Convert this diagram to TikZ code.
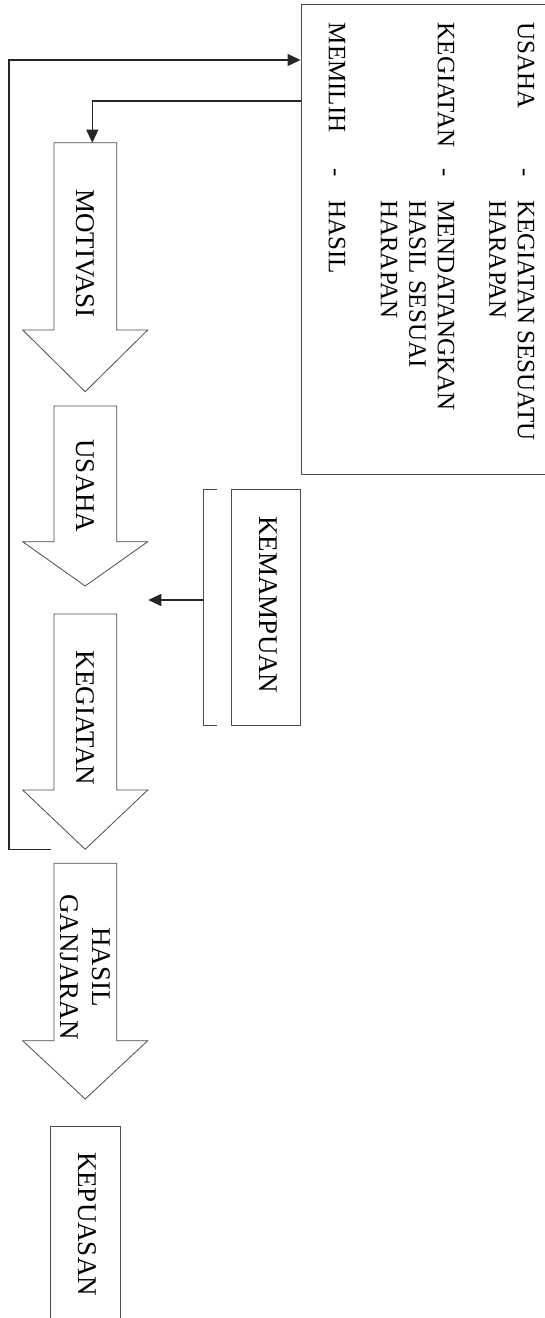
\documentclass[tikz,border=0pt]{standalone}
\usepackage{fontspec}
\setmainfont{Liberation Serif}
\usetikzlibrary{arrows.meta}
\newcommand\blkarrow[4]{%
  \draw[blk] (54,#1) -- (116.7,#1) -- (116.7,#2) -- (147.7,#2) -- (85.2,#3) -- (22.7,#2) -- (54,#2) -- cycle;
  \coordinate (#4) at (85.2,#1);}
\tikzset{
  blk/.style={draw=black!70, line width=0.8pt, fill=white, line join=miter},
  conn/.style={draw=black!85, line width=1.1pt},
  arr/.style={conn, -{Triangle[length=13pt,width=12pt]}},
  frame/.style={draw=black!70, line width=0.9pt, inner sep=0pt},
  boxtxt/.style={font=\fontsize{25}{28.5}\selectfont, rotate=-90, inner sep=0pt, text height=16.4pt, text depth=0pt},
  lbl/.style={font=\fontsize{27}{31}\selectfont, rotate=-90, inner sep=0pt, text height=17.7pt, text depth=0pt}
}
\begin{document}
\begin{tikzpicture}[x=1pt,y=-1pt]
\path[use as bounding box, fill=white] (0,0) rectangle (544,1318);
% big definition box (clipped at right edge)
\node[frame, minimum width=299pt, minimum height=470.5pt] (defbox) at (450.5,239.25) {};
\node[boxtxt, anchor=west] (t1) at (526,22.7) {USAHA};
\node[boxtxt] (h1) at (526,173) {-};
\node[boxtxt, anchor=west] (d1a) at (526,200) {KEGIATAN SESUATU};
\node[boxtxt, anchor=west] (d1b) at (497.5,200) {HARAPAN};
\node[boxtxt, anchor=west] (t2) at (446,22.7) {KEGIATAN};
\node[boxtxt] (h2) at (446,173) {-};
\node[boxtxt, anchor=west] (d2a) at (446,200) {MENDATANGKAN};
\node[boxtxt, anchor=west] (d2b) at (417.5,200) {HASIL SESUAI};
\node[boxtxt, anchor=west] (d2c) at (389,200) {HARAPAN};
\node[boxtxt, anchor=west] (t3) at (337,22.7) {MEMILIH};
\node[boxtxt] (h3) at (337,173) {-};
\node[boxtxt, anchor=west] (d3a) at (337,200) {HASIL};
% block arrows
\blkarrow{142.7}{330}{391.7}{motTop}
\blkarrow{406}{541.7}{586}{usaTop}
\blkarrow{614}{790}{849.3}{kegTop}
\blkarrow{863.3}{1040.7}{1099}{hasTop}
\node[lbl] (lMot) at (85.5,253.5) {MOTIVASI};
\node[lbl] (lUsa) at (85.5,486) {USAHA};
\node[lbl] (lKeg) at (85.5,718) {KEGIATAN};
\node[lbl] (lHas) at (101,967) {HASIL};
\node[lbl] (lGan) at (69.5,967) {GANJARAN};
% KEPUASAN box (clipped at bottom)
\node[frame, minimum width=69.3pt, minimum height=213.3pt] (kepbox) at (85.35,1233.35) {};
\node[lbl] (lKep) at (87,1224) {KEPUASAN};
% KEMAMPUAN box and bracket
\node[frame, minimum width=69pt, minimum height=235.7pt] (kembox) at (265.5,607.15) {};
\node[lbl] (lKem) at (268,605) {KEMAMPUAN};
\coordinate (brTop) at (217.3,489.3);
\coordinate (brBot) at (217.3,725);
\coordinate (brMid) at (203.3,600);
\coordinate (kemTip) at (148.3,600);
\draw[blk, fill=none] (brTop) -- (203.3,489.3) -- (203.3,725) -- (brBot);
\draw[arr] (brMid) -- (kemTip);
% connectors
\coordinate (motEntry) at (92.3,142.7);
\draw[arr] (defbox.west |- 0,101) -| (motEntry);
\coordinate (fbStart) at (50.7,849.3);
\coordinate (fbCorner) at (9,60);
\draw[arr] (fbStart) -| (fbCorner) -- (defbox.west |- fbCorner);
\end{tikzpicture}
\end{document}
